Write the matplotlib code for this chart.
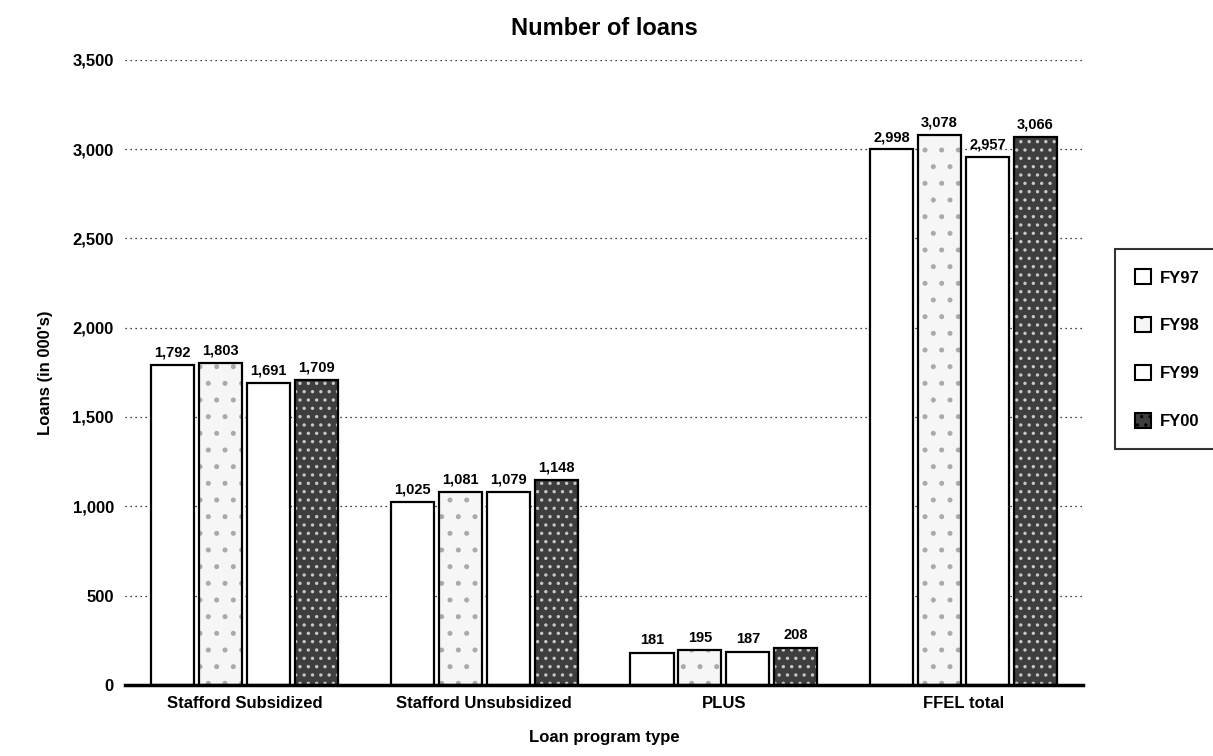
import matplotlib.pyplot as plt
import numpy as np

plt.rcParams['font.family'] = ['Liberation Sans', 'DejaVu Sans']
plt.rcParams['font.weight'] = 'bold'

categories = ['Stafford Subsidized', 'Stafford Unsubsidized', 'PLUS', 'FFEL total']
years = ['FY97', 'FY98', 'FY99', 'FY00']
fy97 = [1792, 1025, 181, 2998]
fy98 = [1803, 1081, 195, 3078]
fy99 = [1691, 1079, 187, 2957]
fy00 = [1709, 1148, 208, 3066]
series = [fy97, fy98, fy99, fy00]

faces = ['white', '#f6f6f6', 'white', '#3e3e3e']
hatches = [None, '.', None, '..']
hcolors = ['white', '#aaaaaa', 'white', '#c8c8c8']

fig = plt.figure(figsize=(12.13, 7.56), dpi=100)
ax = fig.add_axes([0.103, 0.094, 0.79, 0.827])

x = np.arange(len(categories))
w = 0.18
step = 0.2
plt.rcParams['hatch.linewidth'] = 1.2
handles = []
for i, vals in enumerate(series):
    pos = x + (i - 1.5) * step
    ax.bar(pos, vals, w, color=faces[i], hatch=hatches[i], edgecolor=hcolors[i],
           linewidth=0, zorder=2)
    ax.bar(pos, vals, w, fill=False, edgecolor='black', linewidth=1.6, zorder=3)
    handles.append(plt.Rectangle((0, 0), 1, 1, facecolor=faces[i], hatch=hatches[i],
                                 edgecolor='black', linewidth=1.5))
    for p, v in zip(pos, vals):
        ax.text(p, v + 30, f'{v:,}', ha='center', va='bottom', fontsize=10.5, fontweight='bold')

ax.set_xlim(-0.5, 3.5)
ax.set_ylim(0, 3500)
ax.set_yticks(np.arange(0, 3501, 500))
ax.set_yticklabels([f'{t:,}' for t in range(0, 3501, 500)], fontsize=12, fontweight='bold')
ax.set_xticks(x)
ax.set_xticklabels(categories, fontsize=12, fontweight='bold')
ax.tick_params(length=0, pad=8)
for t in range(500, 3501, 500):
    ax.axhline(t, color='black', linestyle=(0, (1, 3)), linewidth=0.9, zorder=1)
for s in ['left', 'right', 'top']:
    ax.spines[s].set_visible(False)
ax.spines['bottom'].set_linewidth(2.5)
ax.spines['bottom'].set_zorder(4)

ax.set_title('Number of loans', fontsize=17, fontweight='bold', pad=18)
ax.set_xlabel('Loan program type', fontsize=12, fontweight='bold', labelpad=14)
ax.set_ylabel("Loans (in 000's)", fontsize=12, fontweight='bold', labelpad=14)

leg = fig.legend(handles, years, loc='upper left', bbox_to_anchor=(0.919, 0.67),
                 frameon=True, fancybox=False, edgecolor='black',
                 handlelength=1.0, handleheight=1.0, labelspacing=1.9,
                 borderpad=1.2, handletextpad=0.5, borderaxespad=0,
                 prop={'weight': 'bold', 'size': 12})
leg.get_frame().set_linewidth(1.5)

fig.savefig('out.png', dpi=100)
